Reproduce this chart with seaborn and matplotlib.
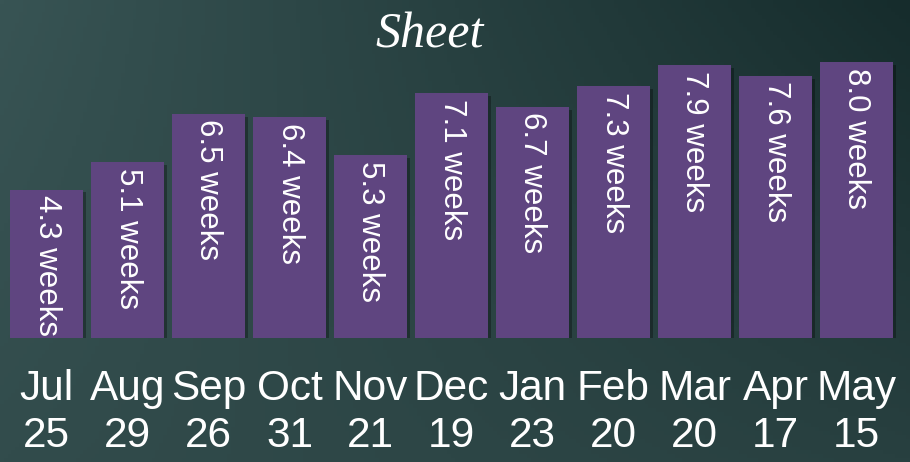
import numpy as np
import pandas as pd
import matplotlib
matplotlib.use("Agg")
import matplotlib.pyplot as plt
import matplotlib.patheffects as pe
import seaborn as sns

months = ["Jul", "Aug", "Sep", "Oct", "Nov", "Dec", "Jan", "Feb", "Mar", "Apr", "May"]
counts = [25, 29, 26, 31, 21, 19, 23, 20, 20, 17, 15]
weeks = [4.3, 5.1, 6.5, 6.4, 5.3, 7.1, 6.7, 7.3, 7.9, 7.6, 8.0]

df = pd.DataFrame({
    "label": [f"{m}\n{c}" for m, c in zip(months, counts)],
    "weeks": weeks,
})

sns.set_style("white")
plt.rcParams["font.family"] = ["Liberation Sans", "DejaVu Sans"]

fig = plt.figure(figsize=(9.1, 4.62), dpi=100)

# background gradient (dark teal, lighter on the left)
bg = fig.add_axes([0, 0, 1, 1])
h, w = 120, 240
xx = np.linspace(0, 1, w)[None, :]
yy = np.linspace(0, 1, h)[:, None]
tl = np.array([56, 84, 84]) / 255
tr = np.array([22, 44, 44]) / 255
bl = np.array([50, 76, 76]) / 255
br = np.array([40, 64, 64]) / 255
top = tl * (1 - xx[..., None]) + tr * xx[..., None]
bot = bl * (1 - xx[..., None]) + br * xx[..., None]
img = top * (1 - yy[..., None]) + bot * yy[..., None]
bg.imshow(img, aspect="auto", extent=[0, 1, 0, 1], origin="upper")
bg.axis("off")

ax = fig.add_axes([6 / 910, 1 - 338 / 462, 891 / 910, 338 / 462])
ax.patch.set_alpha(0)
sns.barplot(data=df, x="label", y="weeks", color="#5f4580", saturation=1,
            width=0.9, ax=ax, edgecolor="none")

for p in ax.patches:
    p.set_path_effects([pe.SimplePatchShadow(offset=(2, -2), shadow_rgbFace="black", alpha=0.3),
                        pe.Normal()])

for i, v in enumerate(weeks):
    ax.annotate(f"{v:.1f} weeks", (i, v), xytext=(0, -4), textcoords="offset points",
                rotation=270, ha="center", va="top", color="white", fontsize=22.5)

ax.set_xlim(-0.5, len(months) - 0.5)
ax.set_ylim(0, 338 / 34.5)
ax.set_xlabel("")
ax.set_ylabel("")
ax.set_yticks([])
ax.tick_params(axis="x", length=0, pad=22, labelsize=30.5, labelcolor="white")
for t in ax.get_xticklabels():
    t.set_linespacing(1.25)
sns.despine(ax=ax, left=True, bottom=True)

fig.text(430 / 910, 1 - 35 / 462, "Sheet", ha="center", va="center", color="white",
         fontsize=36, fontstyle="italic", family=["Liberation Serif", "DejaVu Serif"])

fig.savefig("out.png", dpi=100)
